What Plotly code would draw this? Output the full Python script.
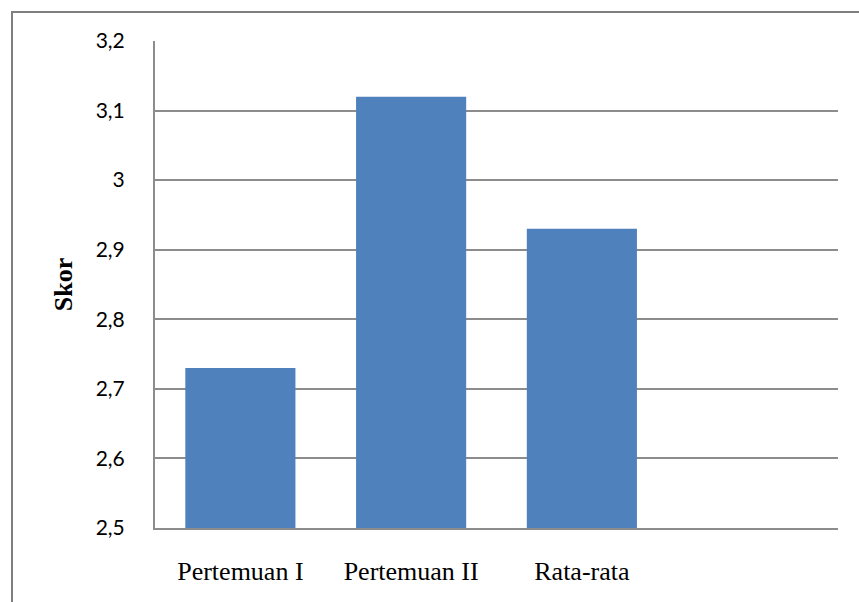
import plotly.graph_objects as go

# Skor per pertemuan
categories = ["Pertemuan I", "Pertemuan II", "Rata-rata"]
scores = [2.73, 3.12, 2.93]
y_ticks = [2.5, 2.6, 2.7, 2.8, 2.9, 3.0, 3.1, 3.2]

W, H = 859, 602
L, R, T, B = 155, 21, 41, 74
pw, ph = W - L - R, H - T - B

def px_x(x):
    return (x - L) / pw

def px_y(y):
    return (H - B - y) / ph

fig = go.Figure(
    go.Bar(
        x=list(range(len(categories))),
        y=scores,
        marker=dict(color="#4f81bd", line=dict(width=0)),
        width=0.645,
        hoverinfo="skip",
    )
)

grid_color = "#8c8c8c"

fig.update_layout(
    width=W,
    height=H,
    margin=dict(l=L, r=R, t=T, b=B),
    paper_bgcolor="white",
    plot_bgcolor="white",
    separators=", ",
    showlegend=False,
    xaxis=dict(
        range=[-0.5, 3.5],
        tickmode="array",
        tickvals=list(range(len(categories))),
        ticktext=categories,
        showgrid=False,
        zeroline=False,
        showline=True,
        linecolor=grid_color,
        linewidth=2,
        ticks="",
        ticklabelstandoff=19,
        tickfont=dict(family="Liberation Serif", size=26, color="black"),
    ),
    yaxis=dict(
        range=[2.5, 3.2],
        tickmode="array",
        tickvals=y_ticks,
        ticktext=[f"{v:g}".replace(".", ",") for v in y_ticks],
        showgrid=True,
        gridcolor=grid_color,
        gridwidth=1.6,
        zeroline=False,
        showline=True,
        linecolor=grid_color,
        linewidth=2,
        ticks="",
        ticklabelstandoff=24,
        tickfont=dict(family="Lato", size=21, color="black"),
        title=dict(
            text="<b>Skor</b>",
            font=dict(family="Liberation Serif", size=26, color="black"),
            standoff=16,
        ),
    ),
    shapes=[
        dict(
            type="path",
            xref="paper",
            yref="paper",
            path=f"M {px_x(12)} {px_y(H + 5)} L {px_x(12)} {px_y(12)} L {px_x(W + 5)} {px_y(12)}",
            line=dict(color="#7f7f7f", width=2),
        )
    ],
)

fig.write_html("out.html")
